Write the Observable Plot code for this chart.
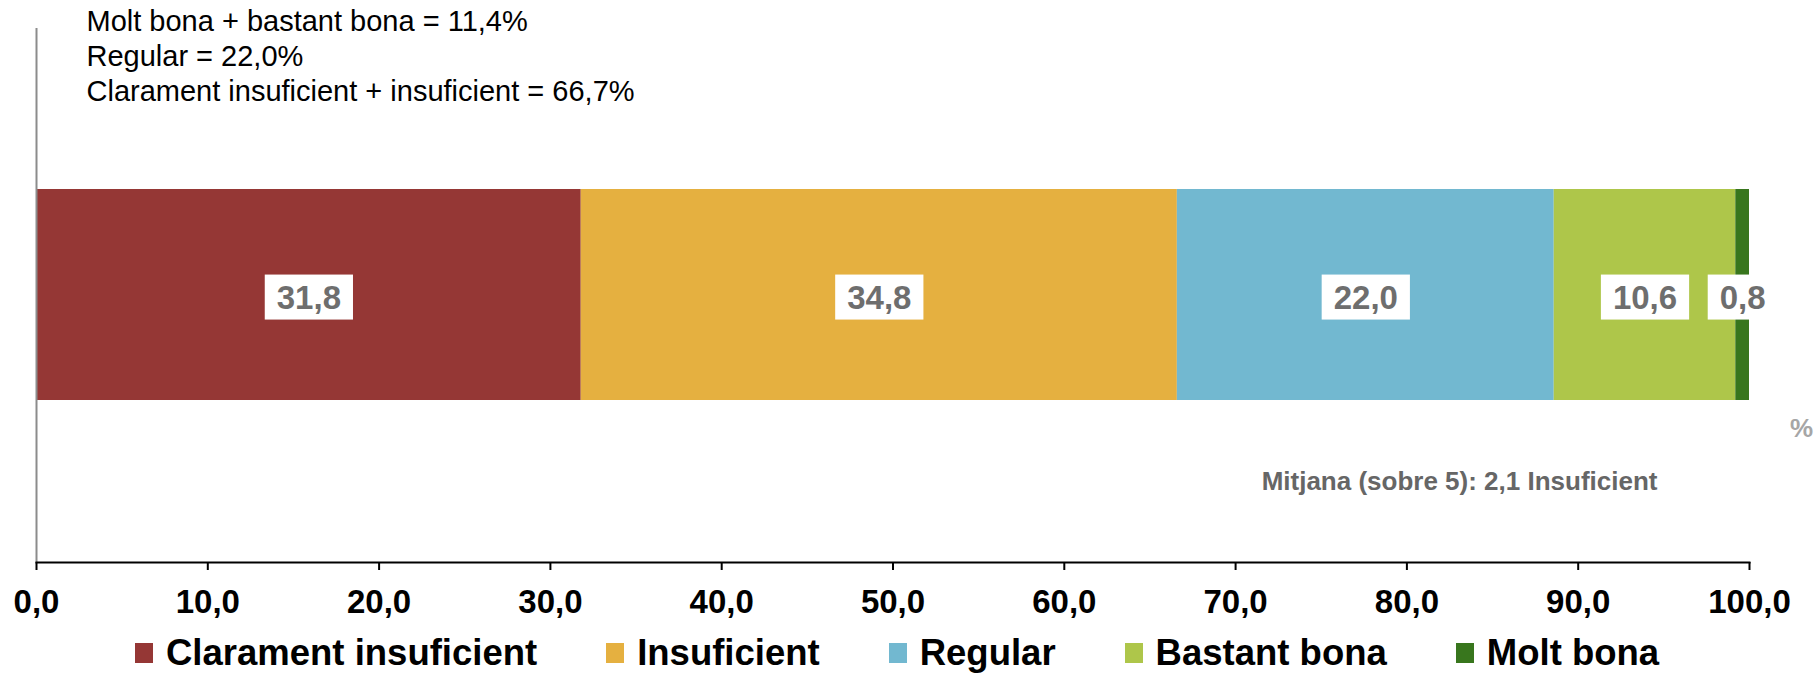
<!DOCTYPE html>
<html>
<head>
<meta charset="utf-8">
<script src="https://cdn.jsdelivr.net/npm/d3@7"></script>
<script src="https://cdn.jsdelivr.net/npm/@observablehq/plot@0.6"></script>
<style>
  html, body { margin: 0; padding: 0; background: white; }
  #chart svg { display: block; }
  #legend {
    height: 43px; display: flex; align-items: center;
    padding-left: 135px; box-sizing: border-box;
    font-family: "Liberation Sans", Arial, sans-serif; font-weight: bold; font-size: 36.5px; color: #000;
  }
  .item { display: flex; align-items: center; margin-right: 69px; }
  .sw { width: 18px; height: 20px; margin-right: 13px; }
</style>
</head>
<body>
<div id="chart"></div>
<div id="legend"></div>
<script>
const categories = ["Clarament insuficient", "Insuficient", "Regular", "Bastant bona", "Molt bona"];
const values = [31.8, 34.8, 22.0, 10.6, 0.8];
const colors = ["#953735", "#E5B040", "#72B8D0", "#AEC64A", "#38761D"];
const xTicks = [0, 10, 20, 30, 40, 50, 60, 70, 80, 90, 100];
const annotationLines = [
  "Molt bona + bastant bona = 11,4%",
  "Regular = 22,0%",
  "Clarament insuficient + insuficient = 66,7%"
];
const meanNote = "Mitjana (sobre 5): 2,1 Insuficient";
const unitLabel = "%";

const FONT = '"Liberation Sans", Arial, sans-serif';
const fmt = d => d.toFixed(1).replace(".", ",");
const data = categories.map((c, i) => ({category: c, value: values[i], group: "total"}));

const chart = Plot.plot({
  width: 1819,
  height: 631,
  marginTop: 28,
  marginBottom: 69,
  marginLeft: 36,
  marginRight: 70,
  style: {fontFamily: FONT, background: "white", overflow: "visible"},
  x: {domain: [0, 100], axis: null, label: null},
  y: {domain: ["total"], padding: 0.432, axis: null, label: null},
  color: {domain: categories, range: colors},
  marks: [
    Plot.barX(data, Plot.stackX({x: "value", y: "group", fill: "category", order: null})),
    Plot.ruleX([0], {stroke: "#8c8c8c", strokeWidth: 2}),
    Plot.frame({anchor: "bottom", stroke: "black", strokeWidth: 2}),
    Plot.axisX({
      ticks: xTicks, tickFormat: fmt, tickSize: 8, tickPadding: 19, label: null,
      fontSize: 33, fontWeight: "bold", color: "black", strokeWidth: 2
    }),
    Plot.text(data, Plot.stackX({
      x: "value", y: "group", text: d => fmt(d.value), order: null,
      fontSize: 33, fontWeight: "bold", fill: "#6e6e6e", dy: 3
    })),
    Plot.text([annotationLines.join("\n")], {
      frameAnchor: "top-left", dx: 50, dy: -22, lineAnchor: "top", textAnchor: "start",
      fontSize: 29, lineHeight: 1.2, fill: "black"
    }),
    Plot.text([unitLabel], {
      frameAnchor: "top-right", dx: 52, dy: 400, textAnchor: "middle", lineAnchor: "middle",
      fontSize: 26, fontWeight: "bold", fill: "#a6a6a6"
    }),
    Plot.text([meanNote], {
      frameAnchor: "bottom-right", dx: -92, dy: -81, textAnchor: "end", lineAnchor: "middle",
      fontSize: 26, fontWeight: "bold", fill: "#666666"
    })
  ]
});
document.getElementById("chart").appendChild(chart);

// white boxes behind value labels
const labelSet = new Set(values.map(fmt));
d3.select(chart).selectAll("text").filter(function() {
  return labelSet.has(this.textContent) && !this.closest('g[aria-label*="axis"]');
}).each(function() {
  const b = this.getBBox();
  const padX = 12, padY = 6;
  const r = d3.select(this.parentNode).insert("rect", () => this)
    .attr("x", b.x - padX).attr("y", b.y - padY + 2)
    .attr("width", b.width + 2 * padX).attr("height", b.height + 2 * padY - 4)
    .attr("fill", "white");
  const tf = this.getAttribute("transform");
  if (tf) r.attr("transform", tf);
});

const legend = d3.select("#legend");
categories.forEach((c, i) => {
  const it = legend.append("div").attr("class", "item");
  it.append("div").attr("class", "sw").style("background", colors[i]);
  it.append("span").text(c);
});
</script>
</body>
</html>
